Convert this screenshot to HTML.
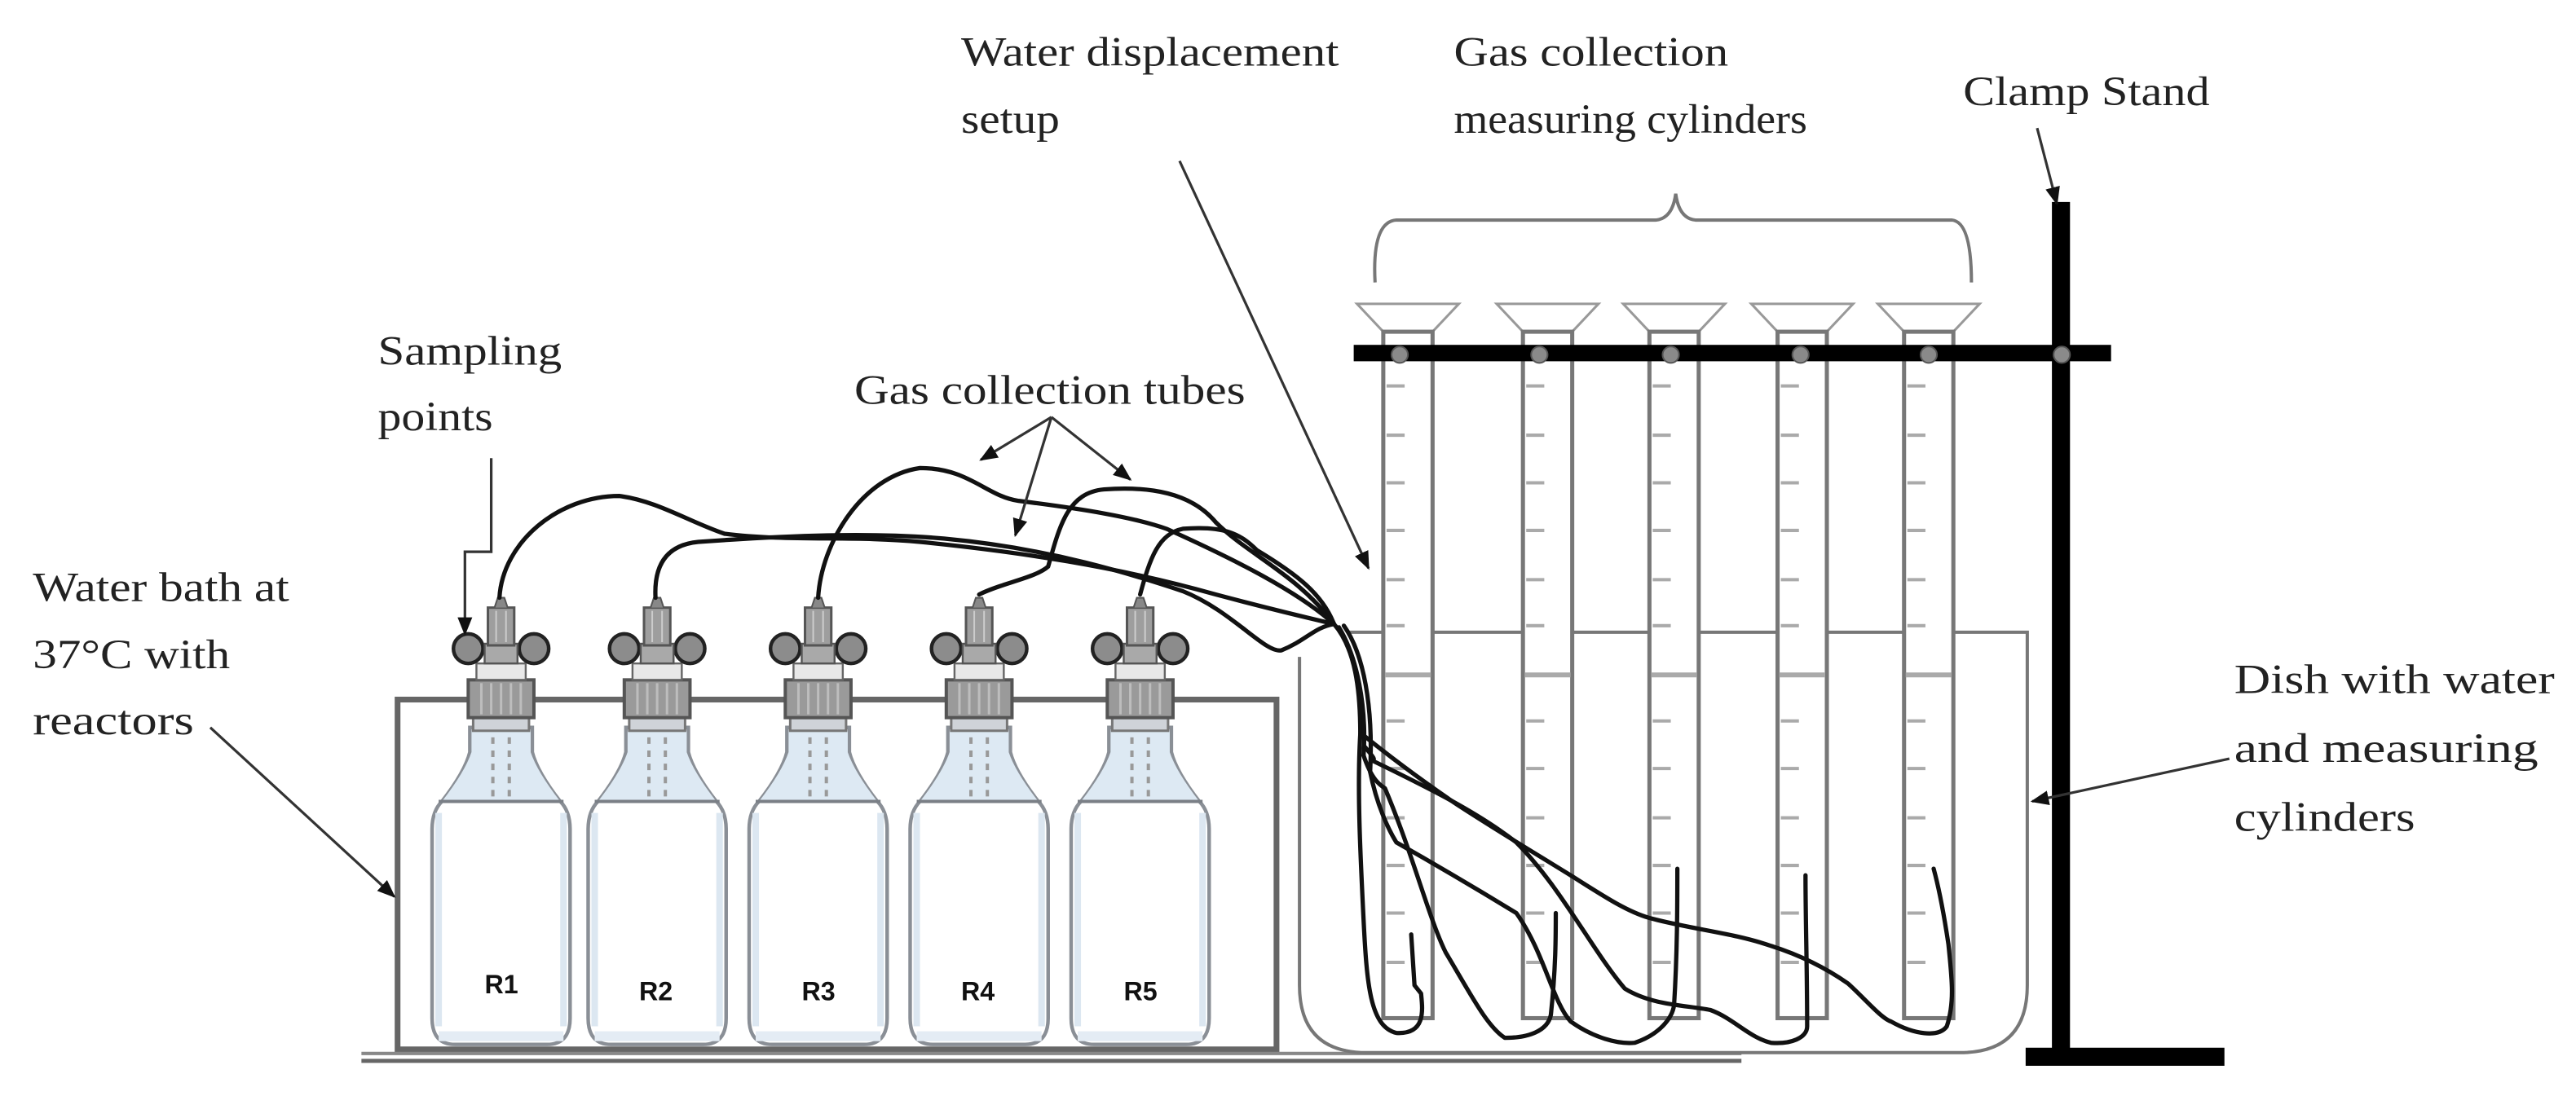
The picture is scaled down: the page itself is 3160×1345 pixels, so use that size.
<!DOCTYPE html>
<html><head><meta charset="utf-8"><style>
html,body{margin:0;padding:0;background:#fff;}
svg{display:block;}
text{font-family:"Liberation Serif",serif;font-size:25px;fill:#222;}
.r{font-family:"Liberation Sans",sans-serif;font-weight:bold;font-size:16px;fill:#111;}
</style></head><body>
<svg width="3160" height="1345" viewBox="0 0 1568 667.4" preserveAspectRatio="none" xmlns="http://www.w3.org/2000/svg">
<defs>
<marker id="ah" viewBox="0 0 10 10" refX="9" refY="5" markerWidth="7" markerHeight="7" orient="auto-start-reverse"><path d="M0,1 L10,5 L0,9 z" fill="#111"/></marker>
<g id="bottle">
  <path d="M-19,443 L-19,458 Q-22,470 -36,488 Q-42,494 -42,505 L-42,620 Q-42,636 -28,636 L28,636 Q42,636 42,620 L42,505 Q42,494 36,488 Q22,470 19,458 L19,443 Z" fill="#fff" stroke="#8a8f96" stroke-width="2.2"/>
  <path d="M-18,445 L18,445 L18,458 Q22,470 36,488 L-36,488 Q-22,470 -18,458Z" fill="#dde9f3"/>
  <line x1="-38" y1="488" x2="38" y2="488" stroke="#7a7f86" stroke-width="2"/>
  <path d="M-38,495 L-38,625 M38,495 L38,625" stroke="#dce7f1" stroke-width="4"/>
  <rect x="-38" y="628" width="76" height="6" fill="#e4ecf4"/>
  <line x1="-5" y1="449" x2="-5" y2="488" stroke="#999" stroke-width="2" stroke-dasharray="4,4"/>
  <line x1="5" y1="449" x2="5" y2="488" stroke="#999" stroke-width="2" stroke-dasharray="4,4"/>
  <rect x="-17" y="437" width="34" height="8" fill="#cfd3d8" stroke="#777" stroke-width="1.5"/>
  <rect x="-20" y="414" width="40" height="23" fill="#9a9a9a" stroke="#555" stroke-width="2"/>
  <path d="M-12,416 V435 M-6,416 V435 M0,416 V435 M6,416 V435 M12,416 V435" stroke="#bdbdbd" stroke-width="1.5"/>
  <rect x="-15" y="404" width="30" height="10" fill="#e8e8e8" stroke="#666" stroke-width="1.2"/>
  <circle cx="-20" cy="395" r="9" fill="#8c8c8c" stroke="#222" stroke-width="2.2"/>
  <circle cx="20" cy="395" r="9" fill="#8c8c8c" stroke="#222" stroke-width="2.2"/>
  <rect x="-10" y="392" width="20" height="12" fill="#a9a9a9" stroke="#555" stroke-width="1.2"/>
  <rect x="-8" y="370" width="16" height="23" fill="#9e9e9e" stroke="#555" stroke-width="1.5"/>
  <path d="M-3,372 V391 M3,372 V391" stroke="#ccc" stroke-width="1"/>
  <path d="M-4,370 L-2,364 L2,364 L4,370" fill="#888" stroke="#555" stroke-width="1"/>
</g>
<g id="cyl">
  <path d="M-31,185 L31,185 L15,202 L-15,202 Z" fill="#fff" stroke="#999" stroke-width="1.5"/>
  <rect x="-15" y="202" width="30" height="418" fill="none" stroke="#777" stroke-width="2.5"/>
  <g stroke="#aaa" stroke-width="2">
    <path d="M-13,235h11M-13,265h11M-13,294h11M-13,323h11M-13,353h11M-13,381h11M-13,439h11M-13,468h11M-13,498h11M-13,527h11M-13,556h11M-13,586h11"/>
  </g>
  <line x1="-14" y1="411" x2="14" y2="411" stroke="#aaa" stroke-width="3"/>
</g>
</defs>

<rect x="242" y="426" width="535" height="213" fill="none" stroke="#666" stroke-width="3.5"/>
<line x1="220" y1="646" x2="1060" y2="646" stroke="#666" stroke-width="2.5"/>
<line x1="220" y1="641.5" x2="1060" y2="641.5" stroke="#888" stroke-width="2"/>

<use href="#bottle" x="305"/>
<use href="#bottle" x="400"/>
<use href="#bottle" x="498"/>
<use href="#bottle" x="596"/>
<use href="#bottle" x="694"/>
<text class="r" x="295" y="605">R1</text>
<text class="r" x="389" y="609">R2</text>
<text class="r" x="488" y="609">R3</text>
<text class="r" x="585" y="609">R4</text>
<text class="r" x="684" y="609">R5</text>

<path d="M791,400 L791,600 Q791,641 832,641 L1193,641 Q1234,641 1234,600 L1234,385 L1188,385 M1158,385 L1111,385 M1081,385 L1034,385 M1004,385 L956,385 M927,385 L872,385 M841,385 L820,385" fill="none" stroke="#777" stroke-width="2"/>

<use href="#cyl" x="857"/>
<use href="#cyl" x="942"/>
<use href="#cyl" x="1019"/>
<use href="#cyl" x="1097"/>
<use href="#cyl" x="1174"/>

<rect x="1249" y="123" width="11" height="522" fill="#000"/>
<rect x="1233" y="638" width="121" height="11" fill="#000"/>
<rect x="824" y="210" width="461" height="10" fill="#000"/>
<g fill="#8a8a8a" stroke="#555" stroke-width="1">
<circle cx="852" cy="216" r="5"/><circle cx="937" cy="216" r="5"/><circle cx="1017" cy="216" r="5"/><circle cx="1096" cy="216" r="5"/><circle cx="1174" cy="216" r="5"/><circle cx="1255" cy="216" r="5"/>
</g>

<g fill="none" stroke="#111" stroke-width="2.6" stroke-linejoin="round" stroke-linecap="round">
<path d="M304,364 C306,330 340,302 377,302 C400,305 420,318 441,325 C480,330 520,326 560,330 C620,336 680,345 740,362 C770,370 795,376 812,380"/>
<path d="M399,364 C398,345 405,332 425,330 C480,326 530,324 575,328 C640,334 690,350 720,360 C750,372 770,398 780,396 C795,390 800,382 812,380"/>
<path d="M498,364 C500,330 525,290 560,285 C590,285 600,302 620,305 C660,310 690,315 710,322 C750,340 790,360 812,380"/>
<path d="M596,362 C610,355 630,352 638,345 C645,320 650,300 672,298 C700,296 725,300 740,318 C760,338 790,350 812,380"/>
<path d="M694,362 C700,340 705,325 720,322 C745,320 755,325 765,335 C790,350 805,362 812,380"/>
<path d="M812,380 C825,395 828,420 828,447"/>
<path d="M815,382 C826,400 832,430 830,460"/>
<path d="M818,381 C830,398 836,430 834,470"/>
<path d="M828,447 C826,480 828,520 830,560 C832,600 834,625 850,629 C868,630 866,615 865,605 L861,600 L859,569"/>
<path d="M830,460 C835,475 840,478 843,480 C860,520 870,560 880,580 C895,605 905,625 916,632 C930,632 942,628 944,618 C947,590 947,570 947,556"/>
<path d="M834,470 C838,490 845,505 850,513 C880,530 905,545 923,556 C940,580 945,610 956,622 C970,632 985,636 995,635 C1010,630 1018,620 1019,612 C1021,580 1021,550 1021,529"/>
<path d="M831,455 C835,460 838,463 835,463 C870,480 900,495 923,513 C950,540 970,580 989,602 C1005,612 1025,612 1041,615 C1055,620 1065,632 1078,635 C1090,636 1100,632 1100,625 C1100,590 1099,560 1099,533"/>
<path d="M829,447 C845,460 865,475 887,490 C910,505 935,520 956,533 C975,545 990,555 1004,559 C1030,566 1055,568 1078,576 C1100,583 1115,592 1125,599 C1135,608 1145,620 1151,622 C1165,630 1180,632 1185,625 C1190,610 1188,595 1186,575 C1183,555 1180,540 1177,529"/>
</g>

<path d="M837,172 Q835,135 850,134 L1008,134 Q1018,133 1020,118 Q1022,133 1032,134 L1188,134 Q1200,135 1200,172" fill="none" stroke="#777" stroke-width="2"/>

<g stroke="#333" stroke-width="1.6" fill="none" marker-end="url(#ah)">
<line x1="718" y1="98" x2="833" y2="346"/>
<line x1="1240" y1="78" x2="1252" y2="124"/>
<path d="M299,279 L299,336 L283,336 L283,386"/>
<line x1="640" y1="254" x2="597" y2="280"/>
<line x1="640" y1="254" x2="618" y2="326"/>
<line x1="640" y1="254" x2="688" y2="292"/>
<line x1="128" y1="443" x2="240" y2="546"/>
<line x1="1357" y1="462" x2="1237" y2="488"/>
</g>

<text x="585" y="40" textLength="230" lengthAdjust="spacingAndGlyphs">Water displacement</text>
<text x="585" y="81" textLength="60" lengthAdjust="spacingAndGlyphs">setup</text>
<text x="885" y="40" textLength="167" lengthAdjust="spacingAndGlyphs">Gas collection</text>
<text x="885" y="81" textLength="215" lengthAdjust="spacingAndGlyphs">measuring cylinders</text>
<text x="1195" y="64" textLength="150" lengthAdjust="spacingAndGlyphs">Clamp Stand</text>
<text x="230" y="222" textLength="112" lengthAdjust="spacingAndGlyphs">Sampling</text>
<text x="230" y="262" textLength="70" lengthAdjust="spacingAndGlyphs">points</text>
<text x="520" y="246" textLength="238" lengthAdjust="spacingAndGlyphs">Gas collection tubes</text>
<text x="20" y="366" textLength="156" lengthAdjust="spacingAndGlyphs">Water bath at</text>
<text x="20" y="407" textLength="120" lengthAdjust="spacingAndGlyphs">37°C with</text>
<text x="20" y="447" textLength="98" lengthAdjust="spacingAndGlyphs">reactors</text>
<text x="1360" y="422" textLength="195" lengthAdjust="spacingAndGlyphs">Dish with water</text>
<text x="1360" y="464" textLength="185" lengthAdjust="spacingAndGlyphs">and measuring</text>
<text x="1360" y="506" textLength="110" lengthAdjust="spacingAndGlyphs">cylinders</text>
</svg>
</body></html>
